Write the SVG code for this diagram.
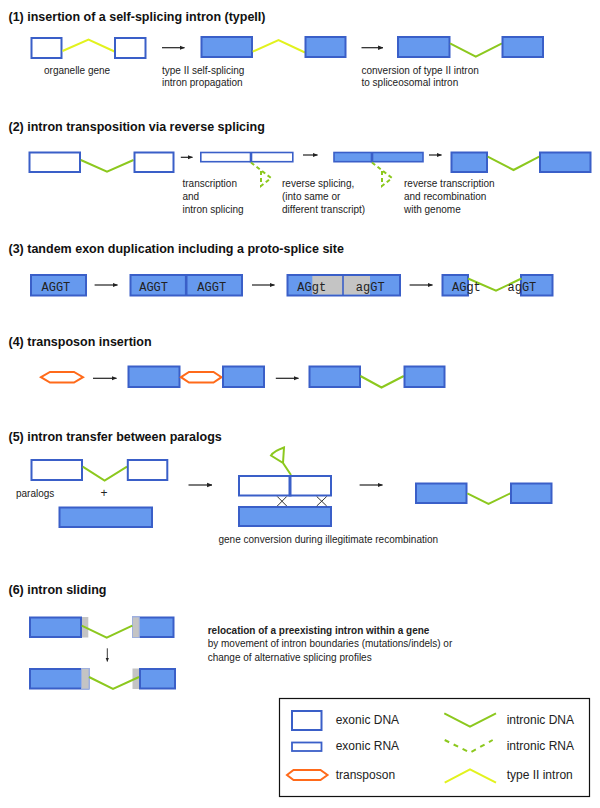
<svg xmlns="http://www.w3.org/2000/svg" width="600" height="808" viewBox="0 0 600 808">
<style>
.exd{fill:#fff;stroke:#3a5fc8;stroke-width:2}
.exf{fill:#6699ee;stroke:#3a5fc8;stroke-width:2}
.rna{fill:#fff;stroke:#3a5fc8;stroke-width:1.6}
.rnaf{fill:#6699ee;stroke:#3a5fc8;stroke-width:1.6}
.div{stroke:#3a5fc8;stroke-width:2.6}
.intr{fill:none;stroke:#8cc81e;stroke-width:2}
.irna{fill:none;stroke:#8cc81e;stroke-width:2;stroke-dasharray:4 3}
.t2{fill:none;stroke:#e2f21e;stroke-width:2}
.tp{fill:#fff;stroke:#ff6a1a;stroke-width:2}
.gray{fill:#c4c4c4}
.grayb{fill:#c4c4c4;stroke:#9fb0dd;stroke-width:1}
.arr{stroke:#222;stroke-width:1.2;marker-end:url(#ah);fill:none}
.x{stroke:#333;stroke-width:1}
.title{font-family:"Liberation Sans",Arial,sans-serif;font-weight:bold;font-size:12.5px;fill:#111}
.lbl{font-family:"Liberation Sans",Arial,sans-serif;font-size:10px;fill:#222}
.bl{font-weight:bold}
.leg{font-family:"Liberation Sans",Arial,sans-serif;font-size:12px;fill:#222}
.seq{font-family:"Liberation Mono","Courier New",monospace;font-size:12px;fill:#222}
</style>
<defs>
<marker id="ah" viewBox="0 0 6 6" refX="5.5" refY="3" markerWidth="4.5" markerHeight="4.5" orient="auto" markerUnits="strokeWidth"><path d="M0,0.5 L6,3 L0,5.5 z" fill="#222"/></marker>
</defs>
<rect width="600" height="808" fill="#fff"/>

<g id="s1">
<text class="title" x="8.5" y="21">(1) insertion of a self-splicing intron (typeII)</text>
<g id="s1-gene1"><rect class="exd" x="31.5" y="38" width="30" height="20"/><polyline class="t2" points="62.5,51 88.5,39.5 114.5,51.5"/><rect class="exd" x="115" y="38" width="30.5" height="20"/><text class="lbl" x="44" y="74">organelle gene</text></g>
<g id="s1-gene2"><rect class="exf" x="201.5" y="37" width="50.5" height="20"/><polyline class="t2" points="252.7,51.7 278.5,40 305,52.5"/><rect class="exf" x="305.5" y="37" width="40" height="20"/><text class="lbl" x="162" y="74">type II self-splicing</text><text class="lbl" x="162" y="86">intron propagation</text></g>
<g id="s1-gene3"><rect class="exf" x="398" y="37" width="51.5" height="20"/><polyline class="intr" points="450,43.3 475.8,56.7 502,43.3"/><rect class="exf" x="502.5" y="37" width="40.5" height="20"/><text class="lbl" x="361.5" y="74">conversion of type II intron</text><text class="lbl" x="361.5" y="86">to spliceosomal intron</text></g>
</g>

<g id="s2">
<text class="title" x="8.5" y="131">(2) intron transposition via reverse splicing</text>
<g id="s2-gene"><rect class="exd" x="29.5" y="152.5" width="50.5" height="19.5"/><polyline class="intr" points="80.8,160 107,171.7 133.5,160"/><rect class="exd" x="134.5" y="152.5" width="39" height="19.5"/></g>
<g id="s2-rna"><rect class="rna" x="200.8" y="152.5" width="92" height="9.2"/><line class="div" x1="251" y1="152" x2="251" y2="162.5"/><path class="irna" d="M251,162.5 L260,169.5 L271,178 L261,186 L261,170"/><text class="lbl" x="182.5" y="187.3">transcription</text><text class="lbl" x="182.5" y="200">and</text><text class="lbl" x="182.5" y="212.7">intron splicing</text></g>
<g id="s2-rna2"><rect class="rnaf" x="334" y="152.5" width="89" height="9.2"/><line class="div" x1="372" y1="152" x2="372" y2="162.5"/><path class="irna" d="M372,162.5 L381,169.5 L392,178 L382,186 L382,170"/><text class="lbl" x="282" y="187.3">reverse splicing,</text><text class="lbl" x="282" y="200">(into same or</text><text class="lbl" x="282" y="212.7">different transcript)</text></g>
<g id="s2-gene2"><rect class="exf" x="451.5" y="152.5" width="35.5" height="19.5"/><polyline class="intr" points="487.7,156.7 513.5,170 539.2,156.7"/><rect class="exf" x="540" y="152.5" width="50.5" height="19.5"/><text class="lbl" x="404" y="187.3">reverse transcription</text><text class="lbl" x="404" y="200">and recombination</text><text class="lbl" x="404" y="212.7">with genome</text></g>
</g>

<g id="s3">
<text class="title" x="8.5" y="252.5">(3) tandem exon duplication including a proto-splice site</text>
<g id="s3-a"><rect class="exf" x="31" y="275" width="55" height="20.5"/><text class="seq" x="41.5" y="291">AGGT</text></g>
<g id="s3-b"><rect class="exf" x="130.5" y="275" width="111.5" height="20.5"/><line class="div" x1="186.2" y1="275" x2="186.2" y2="295.5"/><text class="seq" x="139.2" y="291">AGGT</text><text class="seq" x="197.3" y="291">AGGT</text></g>
<g id="s3-c"><rect class="exf" x="287.5" y="275" width="112.5" height="20.5"/><rect class="gray" x="312.3" y="276" width="57.7" height="18.5"/><line class="div" x1="343" y1="275" x2="343" y2="295.5" style="stroke-width:1.6"/><text class="seq" x="297.3" y="291">AGgt</text><text class="seq" x="355.8" y="291">agGT</text></g>
<g id="s3-d"><rect class="exf" x="442.5" y="275" width="25.5" height="20.5"/><rect class="exf" x="521" y="275" width="31.5" height="20.5"/><polyline class="intr" points="468,278.5 496,290.7 521.5,278.5"/><text class="seq" x="452" y="291">AGgt</text><text class="seq" x="507.5" y="291">agGT</text></g>
</g>

<g id="s4">
<text class="title" x="8.5" y="345.5">(4) transposon insertion</text>
<g id="s4-tp"><polygon class="tp" points="41,377.2 50,372 74,372 83,377.2 74,382.5 50,382.5"/></g>
<g id="s4-ins"><rect class="exf" x="128.5" y="366.5" width="51" height="20.5"/><polygon class="tp" points="181,377.2 189,372 213.5,372 221.5,377.2 213.5,382.5 189,382.5"/><rect class="exf" x="223" y="366.5" width="41" height="20.5"/></g>
<g id="s4-res"><rect class="exf" x="309.5" y="366.5" width="50.5" height="20.5"/><polyline class="intr" points="360.4,376 381.5,387.5 403.8,376"/><rect class="exf" x="404.5" y="366.5" width="40" height="20.5"/></g>
</g>

<g id="s5">
<text class="title" x="8.5" y="440.5">(5) intron transfer between paralogs</text>
<g id="s5-paralogs"><rect class="exd" x="31.5" y="460" width="50.5" height="20"/><polyline class="intr" points="82.7,466.7 104.6,480.5 127,466.7"/><rect class="exd" x="127.8" y="460" width="39.5" height="20"/><text class="lbl" x="16" y="497">paralogs</text><text class="lbl" x="100.5" y="497" style="font-size:12px">+</text><rect class="exf" x="59.5" y="507.5" width="92.5" height="19.5"/></g>
<g id="s5-conv"><path class="intr" d="M291,475 L283,463 L271,455.5 Q274,451 284,447.5 L283,463"/><rect class="exd" x="239" y="476" width="92" height="19.5"/><line x1="290" y1="475" x2="290" y2="496.5" style="stroke:#3a5fc8;stroke-width:3"/><rect class="exf" x="239" y="507" width="92" height="19"/><path class="x" d="M277.3,496.5 L286.7,506 M286.7,496.5 L277.3,506 M316.7,496.5 L326.7,506 M326.7,496.5 L316.7,506"/><text class="lbl" x="218.5" y="543.3">gene conversion during illegitimate recombination</text></g>
<g id="s5-res"><rect class="exf" x="416" y="483.5" width="50.5" height="19.5"/><polyline class="intr" points="467.3,493.3 488.5,504 510.4,493.3"/><rect class="exf" x="511" y="483.5" width="40.5" height="19.5"/></g>
</g>

<g id="s6">
<text class="title" x="8.5" y="594">(6) intron sliding</text>
<g id="s6-top"><rect class="exf" x="30" y="617.5" width="51" height="19.5"/><rect class="gray" x="82" y="617" width="6.3" height="20.5"/><rect class="exf" x="133" y="617.5" width="40.5" height="19.5"/><rect class="grayb" x="132.5" y="617" width="6.8" height="20.5"/><polyline class="intr" points="81.7,625.7 106.7,637.7 132.3,625.7"/></g>
<g id="s6-bottom"><rect class="exf" x="30" y="669" width="58.5" height="19.5"/><rect class="grayb" x="81.5" y="668.5" width="7.5" height="20.5"/><rect class="gray" x="132.5" y="668.5" width="6.5" height="20.5"/><rect class="exf" x="140" y="669" width="35" height="19.5"/><polyline class="intr" points="89,677 113,689 139,677"/></g>
<g id="s6-text"><text class="lbl bl" x="207.7" y="634">relocation of a preexisting intron within a gene</text><text class="lbl" x="207.7" y="647.3">by movement of intron boundaries (mutations/indels) or</text><text class="lbl" x="207.7" y="660.7">change of alternative splicing profiles</text></g>
</g>

<g id="connectors">
<line class="arr" x1="162" y1="47.7" x2="184.5" y2="47.7"/>
<line class="arr" x1="361.5" y1="47.7" x2="383" y2="47.7"/>
<line class="arr" x1="180.8" y1="157.3" x2="192.5" y2="157.3"/>
<line class="arr" x1="303" y1="155" x2="317.5" y2="155"/>
<line class="arr" x1="429" y1="155" x2="441.5" y2="155"/>
<line class="arr" x1="94.6" y1="285" x2="117.5" y2="285"/>
<line class="arr" x1="252" y1="285" x2="274.5" y2="285"/>
<line class="arr" x1="409.6" y1="285" x2="432.5" y2="285"/>
<line class="arr" x1="93" y1="378.3" x2="116.5" y2="378.3"/>
<line class="arr" x1="275.8" y1="378.3" x2="298.5" y2="378.3"/>
<line class="arr" x1="188.5" y1="485" x2="212" y2="485"/>
<line class="arr" x1="359.6" y1="485" x2="382.5" y2="485"/>
<line class="arr" x1="107.3" y1="648.3" x2="107.3" y2="661.5" style="stroke-width:0.9"/>
</g>

<g id="legend">
<rect x="279.5" y="698.5" width="310" height="98" fill="#fff" stroke="#111" stroke-width="1.2"/>
<g id="leg-exdna"><rect class="exd" x="292" y="711" width="29.5" height="19"/><text class="leg" x="335.7" y="724.3">exonic DNA</text></g>
<g id="leg-exrna"><rect class="exd" x="292" y="742.5" width="29.5" height="8.5" style="stroke-width:1.8"/><text class="leg" x="335.7" y="750">exonic RNA</text></g>
<g id="leg-tp"><polygon class="tp" points="287,775 293.5,770 320.5,770 327.5,775 320.5,780 293.5,780"/><text class="leg" x="335.7" y="779.3">transposon</text></g>
<g id="leg-indna"><polyline class="intr" points="444.3,713.3 470,726.7 496,713.3"/><text class="leg" x="506.7" y="724.3">intronic DNA</text></g>
<g id="leg-inrna"><polyline class="irna" points="444.7,740 470,752.7 492.7,740" style="stroke-dasharray:5 5"/><text class="leg" x="506.7" y="750">intronic RNA</text></g>
<g id="leg-t2"><polyline class="t2" points="444.7,782.7 470,769.3 496,782.7"/><text class="leg" x="506.7" y="779.3">type II intron</text></g>
</g>
</svg>
